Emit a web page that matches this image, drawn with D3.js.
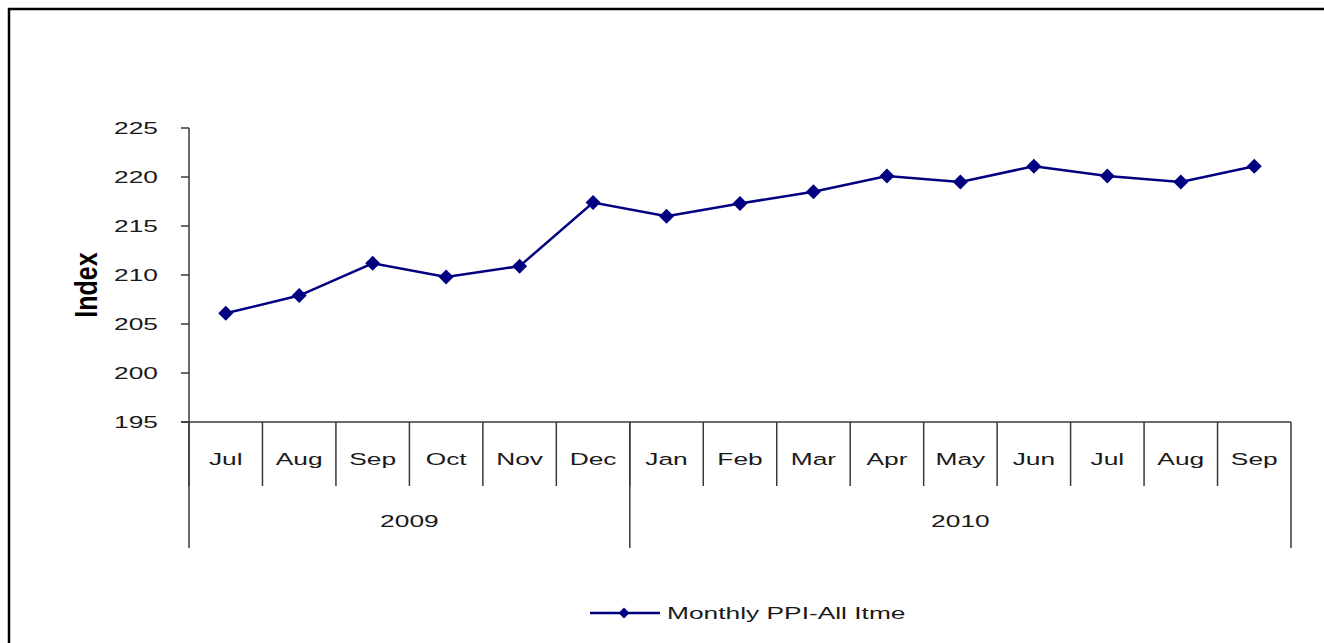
<!DOCTYPE html>
<html>
<head>
<meta charset="utf-8">
<script src="https://cdn.jsdelivr.net/npm/d3@7"></script>
<style>
html,body{margin:0;padding:0;background:#fff;}
svg{display:block;}
text{font-family:"Liberation Sans",Arial,sans-serif;fill:#1a1a1a;}
</style>
</head>
<body>
<svg id="chart" width="1324" height="643"></svg>
<script>
const months = ["Jul","Aug","Sep","Oct","Nov","Dec","Jan","Feb","Mar","Apr","May","Jun","Jul","Aug","Sep"];
const years = ["2009","2010"];
const yearSpans = [6, 9];
const ppiValues = [206.1, 207.9, 211.2, 209.8, 210.9, 217.4, 216.0, 217.3, 218.5, 220.1, 219.5, 221.1, 220.1, 219.5, 221.1];
const yTicks = [195, 200, 205, 210, 215, 220, 225];
const seriesName = "Monthly PPI-All Itme";
const yTitle = "Index";

(function () {
const svg = d3.select("#chart");
const SX = 1.55; // horizontal stretch of glyphs in the reference
const axisColor = "#3a3a3a";
const lineColor = "#000080";

// outer border
svg.append("rect").attr("x", 9).attr("y", 9).attr("width", 1330).attr("height", 650)
  .attr("fill", "none").attr("stroke", "#000").attr("stroke-width", 2.5);

const pLeft = 189, pRight = 1291, pTop = 128, pBottom = 422;
const x = d3.scaleBand().domain(d3.range(months.length)).range([pLeft, pRight]).padding(0);
const y = d3.scaleLinear().domain([195, 225]).range([pBottom, pTop]);

function stext(g, str, px, py, anchor, size, weight) {
  return g.append("text")
    .attr("transform", `translate(${px},${py}) scale(${SX},1)`)
    .attr("text-anchor", anchor)
    .style("font-size", size + "px")
    .style("font-weight", weight || "normal")
    .text(str);
}

// y axis
const yAxis = svg.append("g");
yAxis.append("line").attr("x1", pLeft).attr("x2", pLeft).attr("y1", pTop).attr("y2", pBottom)
  .attr("stroke", axisColor).attr("stroke-width", 1.5);
yTicks.forEach(t => {
  yAxis.append("line").attr("x1", pLeft - 8).attr("x2", pLeft).attr("y1", y(t)).attr("y2", y(t))
    .attr("stroke", axisColor).attr("stroke-width", 1.5);
  stext(yAxis, String(t), 158, y(t) + 6, "end", 17);
});

// y title
svg.append("text")
  .attr("transform", `translate(97,285) scale(1.25,1) rotate(-90)`)
  .attr("text-anchor", "middle")
  .style("font-size", "25px").style("font-weight", "bold")
  .style("fill", "#000")
  .text(yTitle);

// x axis
const xAxis = svg.append("g");
xAxis.append("line").attr("x1", pLeft - 8).attr("x2", pRight).attr("y1", pBottom).attr("y2", pBottom)
  .attr("stroke", axisColor).attr("stroke-width", 1.5);
months.forEach((m, i) => {
  const x0 = x(i);
  xAxis.append("line").attr("x1", x0).attr("x2", x0).attr("y1", pBottom).attr("y2", 486)
    .attr("stroke", axisColor).attr("stroke-width", 1.5);
  stext(xAxis, m, x0 + x.bandwidth() / 2, 465, "middle", 17);
});
// year groups
let startIdx = 0;
years.forEach((yr, k) => {
  const endIdx = startIdx + yearSpans[k];
  const xs = x(startIdx);
  const xe = endIdx < months.length ? x(endIdx) : pRight;
  xAxis.append("line").attr("x1", xs).attr("x2", xs).attr("y1", pBottom).attr("y2", 548)
    .attr("stroke", axisColor).attr("stroke-width", 1.5);
  stext(xAxis, yr, (xs + xe) / 2, 527, "middle", 17);
  startIdx = endIdx;
});
xAxis.append("line").attr("x1", pRight).attr("x2", pRight).attr("y1", pBottom).attr("y2", 548)
  .attr("stroke", axisColor).attr("stroke-width", 1.5);

// series line
const cx = i => x(i) + x.bandwidth() / 2;
const line = d3.line().x((d, i) => cx(i)).y(d => y(d));
svg.append("path").datum(ppiValues).attr("d", line)
  .attr("fill", "none").attr("stroke", lineColor).attr("stroke-width", 2.5);

const diamond = r => `M0,${-r}L${r},0L0,${r}L${-r},0Z`;
svg.append("g").selectAll("path").data(ppiValues).join("path")
  .attr("transform", (d, i) => `translate(${cx(i)},${y(d)})`)
  .attr("d", diamond(7.5))
  .attr("fill", lineColor);

// legend
const lg = svg.append("g");
lg.append("line").attr("x1", 590).attr("x2", 660).attr("y1", 613).attr("y2", 613)
  .attr("stroke", lineColor).attr("stroke-width", 2.5);
lg.append("path").attr("transform", "translate(624,613)").attr("d", diamond(5.5)).attr("fill", lineColor);
stext(lg, seriesName, 667, 619, "start", 17);
})();
</script>
</body>
</html>
